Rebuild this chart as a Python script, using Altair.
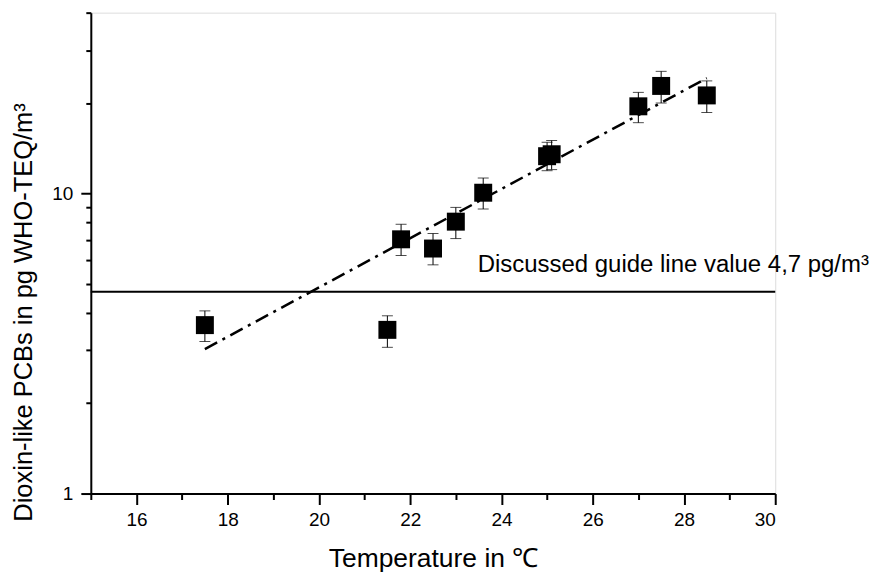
import altair as alt
import pandas as pd

# Data
temps = [17.5, 21.5, 21.8, 22.5, 23.0, 23.6, 25.0, 25.1, 27.0, 27.5, 28.5]
pcb = [3.64, 3.51, 7.03, 6.55, 8.05, 10.05, 13.3, 13.5, 19.5, 22.8, 21.2]
err_lo = [3.21, 3.07, 6.21, 5.78, 7.07, 8.87, 11.9, 12.0, 17.2, 20.0, 18.6]
err_hi = [4.06, 3.91, 7.89, 7.35, 8.98, 11.25, 14.8, 15.0, 21.7, 25.5, 23.7]

fit_x = [17.5, 28.5]
fit_y = [3.03, 24.2]

guide_value = [4.7]
guide_label = ["Discussed guide line value 4,7 pg/m³"]
label_x = [23.48]
label_y = [5.47]

x_ticks = list(range(15, 31))
y_ticks = [1, 2, 3, 4, 5, 6, 7, 8, 9, 10, 20, 30, 40]

pts = pd.DataFrame({"t": temps, "v": pcb, "lo": err_lo, "hi": err_hi})
fit = pd.DataFrame({"t": fit_x, "v": fit_y})
guide = pd.DataFrame({"v": guide_value})
lab = pd.DataFrame({"t": label_x, "v": label_y, "txt": guide_label})

FONT = "Liberation Sans"

xscale = alt.Scale(domain=[15, 30], nice=False, zero=False)
yscale = alt.Scale(type="log", domain=[1, 40], nice=False)

xaxis = alt.Axis(
    title="Temperature in ℃",
    values=x_ticks,
    labelExpr="datum.value % 2 === 0 ? datum.label : ''",
    tickSize={"condition": {"test": "datum.value % 2 === 0", "value": 11}, "value": 6},
    grid=False,
    domainColor="black", domainWidth=2,
    tickColor="black", tickWidth=2,
    labelFont=FONT, labelFontSize=19, labelColor="black", labelPadding=6,
    titleFont=FONT, titleFontSize=26.5, titleFontWeight="normal", titleColor="black",
    titleBaseline="alphabetic", titleY=73,
)
yaxis = alt.Axis(
    title="Dioxin-like PCBs in pg WHO-TEQ/m³",
    values=y_ticks,
    labelExpr="(datum.value === 1 || datum.value === 10) ? datum.label : ''",
    tickSize={"condition": {"test": "datum.value === 1 || datum.value === 10", "value": 10}, "value": 5},
    grid=False,
    domainColor="black", domainWidth=2,
    tickColor="black", tickWidth=2,
    labelFont=FONT, labelFontSize=19, labelColor="black", labelPadding=8,
    titleFont=FONT, titleFontSize=25.5, titleFontWeight="normal", titleColor="black",
    titleBaseline="middle", titleX=-67, titleY=300, titleAngle=-90,
)

base = alt.Chart(pts)

bars = base.mark_rule(color="black", strokeWidth=1).encode(
    x=alt.X("t:Q", scale=xscale, axis=xaxis),
    y=alt.Y("lo:Q", scale=yscale, axis=yaxis),
    y2="hi:Q",
)
cap_lo = base.mark_tick(color="black", orient="horizontal", size=11, thickness=1).encode(
    x="t:Q", y="lo:Q"
)
cap_hi = base.mark_tick(color="black", orient="horizontal", size=11, thickness=1).encode(
    x="t:Q", y="hi:Q"
)
squares = base.mark_square(color="black", filled=True, opacity=1, size=324).encode(
    x="t:Q", y="v:Q"
)
fitline = alt.Chart(fit).mark_line(
    color="black", strokeWidth=2.5, strokeDash=[14, 6, 3, 6]
).encode(x="t:Q", y="v:Q")
guideline = alt.Chart(guide).mark_rule(color="black", strokeWidth=2).encode(y="v:Q")
text = alt.Chart(lab).mark_text(
    align="left", baseline="alphabetic", font=FONT, fontSize=24, color="black"
).encode(x="t:Q", y="v:Q", text="txt:N")

chart = alt.layer(guideline, fitline, bars, cap_lo, cap_hi, squares, text).properties(
    width=686,
    height=482,
    autosize=alt.AutoSizeParams(type="none"),
    padding={"left": 83, "top": 4, "right": 99, "bottom": 90},
).configure_view(stroke=None).configure(background="white")

chart.save("out.html", embed_options={"renderer": "svg", "actions": False})
